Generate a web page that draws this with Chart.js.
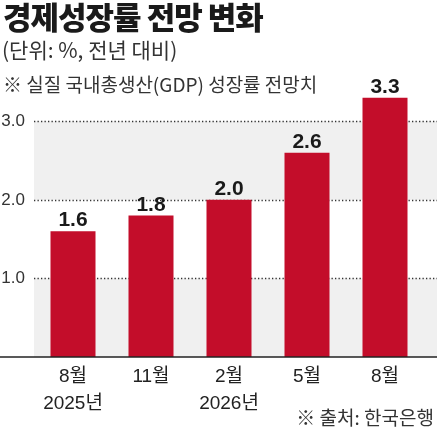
<!DOCTYPE html>
<html><head><meta charset="utf-8">
<script src="https://cdn.jsdelivr.net/npm/chart.js@4"></script>
<style>
html,body{margin:0;padding:0;background:#fff;}
#wrap{position:relative;width:437px;height:433px;overflow:hidden;}
#wrap canvas{position:absolute;left:0;top:0;}
.t{position:absolute;white-space:nowrap;font-family:"Noto Sans CJK KR",sans-serif;line-height:1;}
#title{left:3px;top:0px;font-size:31px;font-weight:900;color:#1a1a1a;letter-spacing:-1px;}
#sub{left:2px;top:39px;font-size:21px;color:#333;}
#note{left:3px;top:74px;font-size:19px;color:#333;}
#src{right:3px;top:407px;font-size:19px;color:#333;}
</style></head>
<body><div id="wrap"><canvas id="c" width="437" height="433"></canvas>
<div class="t" id="title">경제성장률 전망 변화</div>
<div class="t" id="sub">(단위: %, 전년 대비)</div>
<div class="t" id="note">※ 실질 국내총생산(GDP) 성장률 전망치</div>
<div class="t" id="src">※ 출처: 한국은행</div>
</div>
<script>
const categories = [["8월", "2025년"], "11월", ["2월", "2026년"], "5월", "8월"];
const growthForecast = [1.6, 1.8, 2.0, 2.6, 3.3];
const yTicks = [1.0, 2.0, 3.0];
const yMin = 0;
const yMax = 3.5;

const tickFont = '"Liberation Sans", Arial, "Noto Sans CJK KR", sans-serif';

const bandsPlugin = {
  id: 'bands',
  beforeDatasetsDraw(chart) {
    const { ctx, chartArea, scales: { y } } = chart;
    const W = chart.width;
    ctx.save();
    ctx.fillStyle = '#f0f0f0';
    const edges = [yMin].concat(yTicks);
    for (let i = 0; i + 1 < edges.length; i += 2) {
      const ya = y.getPixelForValue(edges[i]);
      const yb = y.getPixelForValue(edges[i + 1]);
      ctx.fillRect(chartArea.left, yb, W - chartArea.left, ya - yb);
    }
    ctx.strokeStyle = '#333';
    ctx.lineWidth = 1.3;
    ctx.setLineDash([1.3, 2.2]);
    y.ticks.forEach(t => {
      const py = Math.round(y.getPixelForValue(t.value)) + 0.5;
      ctx.beginPath();
      ctx.moveTo(chartArea.left, py);
      ctx.lineTo(W, py);
      ctx.stroke();
    });
    ctx.restore();
  },
  afterDatasetsDraw(chart) {
    const { ctx, scales: { y } } = chart;
    const W = chart.width;
    ctx.save();
    const meta = chart.getDatasetMeta(0);
    ctx.fillStyle = '#1a1a1a';
    ctx.font = 'bold 21px "Liberation Sans", Arial, sans-serif';
    ctx.textAlign = 'center';
    ctx.textBaseline = 'alphabetic';
    meta.data.forEach((bar, i) => {
      ctx.fillText(growthForecast[i].toFixed(1), bar.x, bar.y - 5);
    });
    const y0 = y.getPixelForValue(0);
    ctx.strokeStyle = '#222';
    ctx.lineWidth = 1.6;
    ctx.beginPath();
    ctx.moveTo(0, y0);
    ctx.lineTo(W, y0);
    ctx.stroke();
    ctx.restore();
  }
};

new Chart(document.getElementById('c'), {
  type: 'bar',
  data: {
    labels: categories,
    datasets: [{
      data: growthForecast,
      backgroundColor: '#c30d2a',
      borderWidth: 0,
      barPercentage: 0.577,
      categoryPercentage: 1.0
    }]
  },
  options: {
    responsive: false,
    animation: false,
    layout: { padding: { top: 82, right: 13, bottom: 0, left: 0 } },
    plugins: { legend: { display: false }, tooltip: { enabled: false }, title: { display: false } },
    scales: {
      x: {
        grid: { display: false, drawTicks: false },
        border: { display: false },
        ticks: { color: '#222', padding: 6, font: { family: tickFont, size: 19, lineHeight: 1.42 }, maxRotation: 0, autoSkip: false },
        afterFit(s) { s.height = 76; }
      },
      y: {
        min: yMin, max: yMax,
        grid: { display: false, drawTicks: false },
        border: { display: false },
        afterBuildTicks(s) { s.ticks = yTicks.map(v => ({ value: v })); },
        ticks: { color: '#333', padding: 9, font: { family: tickFont, size: 17 }, callback: v => Number(v).toFixed(1) },
        afterFit(s) { s.width = 34; }
      }
    }
  },
  plugins: [bandsPlugin]
});
</script>
</body></html>
